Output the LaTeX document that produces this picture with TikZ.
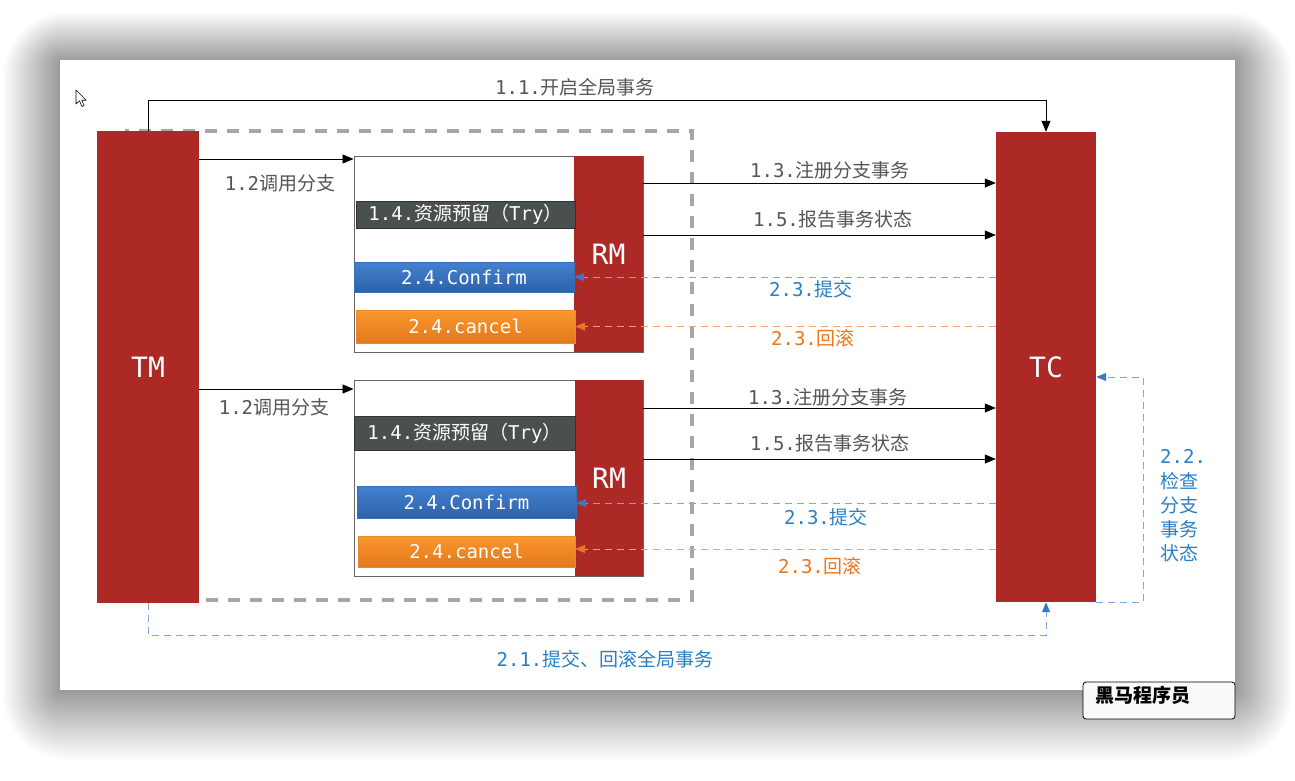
\documentclass[tikz,border=0pt]{standalone}
\usepackage{fontspec}
\usetikzlibrary{arrows.meta}
\newfontfamily\mymono{DejaVu Sans Mono}
\newfontfamily\mycjk{Noto Sans CJK SC}
\newcommand\Mo[1]{{\mymono #1}}
\newcommand\Cj[1]{{\mycjk #1}}
\definecolor{dred}{HTML}{AD2926}
\definecolor{lblgray}{HTML}{555555}
\definecolor{lblblue}{HTML}{2A7FC4}
\definecolor{lblorange}{HTML}{E8771E}
\definecolor{dashblue}{HTML}{7FA6D6}
\definecolor{tipblue}{HTML}{3A78C0}
\definecolor{dashorange}{HTML}{F5A36A}
\definecolor{tiporange}{HTML}{E87722}
\definecolor{boxgray}{HTML}{A6A6A6}
\definecolor{trygray}{HTML}{4A4F4F}
\definecolor{cbtop}{HTML}{4381CF}
\definecolor{cbbot}{HTML}{2E62AA}
\definecolor{cbdraw}{HTML}{3A6FB5}
\definecolor{ortop}{HTML}{FB982E}
\definecolor{orbot}{HTML}{E2771B}
\definecolor{ordraw}{HTML}{E88A30}
\tikzset{
  redbox/.style={fill=dred, inner sep=0pt, text=white, font=\mymono\fontsize{28}{32}\selectfont},
  grpbox/.style={draw=gray!80!black, line width=0.9pt, inner sep=0pt},
  trybar/.style={fill=trygray, draw=black!80, line width=0.6pt, inner sep=0pt, text=white, font=\fontsize{19}{23}\selectfont},
  confbar/.style={top color=cbtop, bottom color=cbbot, draw=cbdraw, line width=0.3pt, inner sep=0pt, text=white, font=\fontsize{19}{23}\selectfont},
  cancbar/.style={top color=ortop, bottom color=orbot, draw=ordraw, line width=0.3pt, inner sep=0pt, text=white, font=\fontsize{19}{23}\selectfont},
  arr/.style={draw=black, line width=0.8pt, -{Triangle[length=11pt,width=9pt]}},
  bdash/.style={draw=dashblue, line width=1pt, dash pattern=on 7pt off 5pt, -{Triangle[length=10pt,width=8pt,color=tipblue,fill=tipblue]}},
  odash/.style={draw=dashorange, line width=1pt, dash pattern=on 7pt off 5pt, -{Triangle[length=10pt,width=8pt,color=tiporange,fill=tiporange]}},
  lbl/.style={inner sep=0pt, font=\fontsize{19}{23}\selectfont},
}
\begin{document}
\begin{tikzpicture}[x=1pt,y=-1pt]
\useasboundingbox (0,0) rectangle (1295,780);
\fill[white] (0,0) rectangle (1295,780);
% shadow
\foreach \i in {1,...,50} {
  \fill[black, opacity=0.0075, rounded corners=\i*1.3pt] (60-\i*1.15,62-\i*1.0) rectangle (1235+\i*1.15,690+\i*1.4);
}
\fill[white] (60,60) rectangle (1235,690);
% cursor
\draw[black, fill=white, line width=0.6pt, line join=round]
  (76,90) -- (76,104) -- (79.5,100.8) -- (82,106.5) -- (84.2,105.6) -- (81.8,100.2) -- (86.2,100.2) -- cycle;
% dashed group frame
\draw[boxgray, line width=3.5pt, dash pattern=on 12pt off 10pt] (125,131) rectangle (692,600);
% main boxes
\node[redbox, minimum width=102pt, minimum height=472pt] (TM) at (148,367) {TM};
\node[redbox, minimum width=100pt, minimum height=470pt] (TC) at (1046,367) {TC};
% group 1
\node[grpbox, minimum width=289pt, minimum height=196pt] (box1) at (498.5,254) {};
\node[redbox, minimum width=69pt, minimum height=196pt] (RM1) at (608.5,254) {RM};
\node[trybar, minimum width=219pt, minimum height=27pt] (try1) at (465.5,214.5) {\Mo{1.4.}\Cj{资源预留（}\Mo{Try}\Cj{）}};
\node[confbar, minimum width=220pt, minimum height=30pt] (conf1) at (464,277) {\Mo{2.4.Confirm}};
\node[cancbar, minimum width=219pt, minimum height=33pt] (canc1) at (465.5,326.5) {\Mo{2.4.cancel}};
% group 2
\node[grpbox, minimum width=289pt, minimum height=196pt] (box2) at (498.5,478) {};
\node[redbox, minimum width=68pt, minimum height=196pt] (RM2) at (609,478) {RM};
\node[trybar, minimum width=221pt, minimum height=34pt] (try2) at (464.5,433) {\Mo{1.4.}\Cj{资源预留（}\Mo{Try}\Cj{）}};
\node[confbar, minimum width=219pt, minimum height=32pt] (conf2) at (466.5,502) {\Mo{2.4.Confirm}};
\node[cancbar, minimum width=217pt, minimum height=31pt] (canc2) at (466.5,551.5) {\Mo{2.4.cancel}};
% 1.1
\draw[arr] (TM.north) -- (TM.north |- 0,100) -| (TC.north);
\node[lbl, text=lblgray] (l11) at (575,87) {\Mo{1.1.}\Cj{开启全局事务}};
% 1.2
\draw[arr] (TM.east |- 0,159) -- (box1.west |- 0,159);
\node[lbl, text=lblgray] (l12a) at (280,183) {\Mo{1.2}\Cj{调用分支}};
\draw[arr] (TM.east |- 0,389) -- (box2.west |- 0,389);
\node[lbl, text=lblgray] (l12b) at (274,407) {\Mo{1.2}\Cj{调用分支}};
% group 1 connectors
\draw[arr] (RM1.east |- 0,183) -- (TC.west |- 0,183);
\node[lbl, text=lblgray] (l13a) at (830,170) {\Mo{1.3.}\Cj{注册分支事务}};
\draw[arr] (RM1.east |- 0,235) -- (TC.west |- 0,235);
\node[lbl, text=lblgray] (l15a) at (833,219) {\Mo{1.5.}\Cj{报告事务状态}};
\draw[bdash] (TC.west |- conf1.east) -- (conf1.east);
\node[lbl, text=lblblue] (l23a) at (811,289) {\Mo{2.3.}\Cj{提交}};
\draw[odash] (TC.west |- canc1.east) -- (canc1.east);
\node[lbl, text=lblorange] (l23ra) at (813,338) {\Mo{2.3.}\Cj{回滚}};
% group 2 connectors
\draw[arr] (RM2.east |- 0,408) -- (TC.west |- 0,408);
\node[lbl, text=lblgray] (l13b) at (828,397) {\Mo{1.3.}\Cj{注册分支事务}};
\draw[arr] (RM2.east |- 0,459) -- (TC.west |- 0,459);
\node[lbl, text=lblgray] (l15b) at (830,443) {\Mo{1.5.}\Cj{报告事务状态}};
\draw[bdash] (TC.west |- 0,503) -- (conf2.east |- 0,503);
\node[lbl, text=lblblue] (l23b) at (826,517) {\Mo{2.3.}\Cj{提交}};
\draw[odash] (TC.west |- 0,549) -- (canc2.east |- 0,549);
\node[lbl, text=lblorange] (l23rb) at (820,566) {\Mo{2.3.}\Cj{回滚}};
% 2.2 loop
\draw[bdash] (TC.south east) -- ++(47,0) |- (TC.east |- 0,377);
\node[lbl, text=lblblue, anchor=west, align=left, font=\fontsize{19}{24.2}\selectfont] (l22) at (1160,506)
  {\Mo{2.2.}\\\Cj{检查}\\\Cj{分支}\\\Cj{事务}\\\Cj{状态}};
% 2.1
\draw[bdash] (TM.south) -- ++(0,32) -| (TC.south);
\node[lbl, text=lblblue] (l21) at (605,659) {\Mo{2.1.}\Cj{提交、回滚全局事务}};
% watermark
\node[draw=black, fill=gray!5, rounded corners=3pt, line width=0.8pt, minimum width=152pt, minimum height=37pt, inner sep=0pt] (wm) at (1159,700.5) {};
\node[anchor=west, inner sep=0pt, font=\mycjk\bfseries\fontsize{19}{22}\selectfont] (wmt) at (1095,695) {黑马程序员};
\end{tikzpicture}
\end{document}
